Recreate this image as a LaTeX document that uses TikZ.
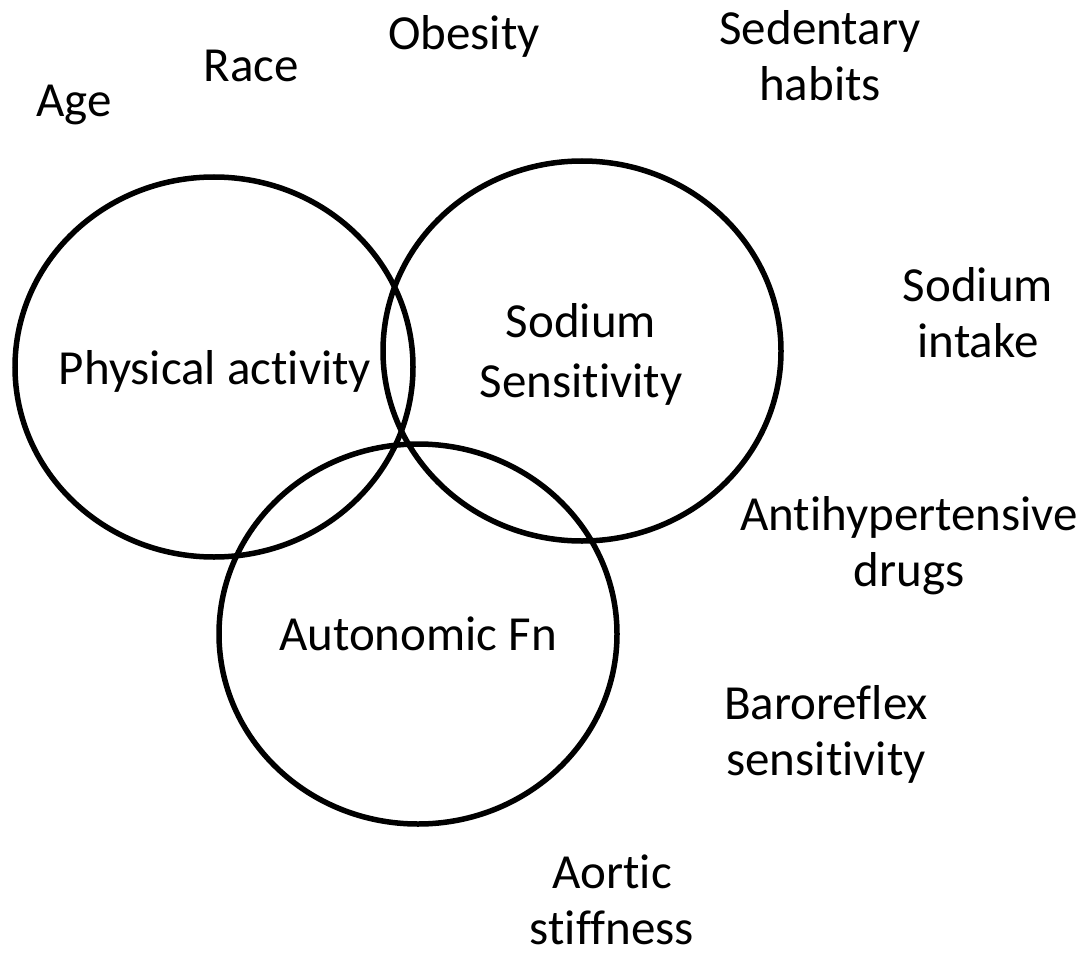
\documentclass[tikz,border=0pt]{standalone}
\usepackage{fontspec}
\setmainfont{Carlito}[Ligatures=NoCommon]
\usetikzlibrary{shapes.geometric}

\begin{document}
\begin{tikzpicture}[x=1pt,y=-1pt,
  ring/.style={draw,ellipse,line width=5.5pt,minimum width=398pt,minimum height=380pt,inner sep=0pt},
  venntext/.style={font=\fontsize{49}{60}\selectfont,align=center,anchor=base},
  factor/.style={font=\fontsize{49}{56}\selectfont,align=center,anchor=base,inner sep=0pt}]
\useasboundingbox (0,0) rectangle (1091,952);

% the three circles
\node[ring] (PA) at (214,367) {};
\node[ring] (SS) at (582,351) {};
\node[ring] (AF) at (418,634) {};

% base = baseline of the last line
\node[venntext] (patext) at (215,384) {Physical activity};
\node[venntext] (sstext) at (581,397) {Sodium\\Sensitivity};
\node[venntext] (aftext) at (418,650) {Autonomic Fn};

% factors around
\node[factor] (age) at (74,117) {Age};
\node[factor] (race) at (251,82) {Race};
\node[factor] (obesity) at (464,50) {Obesity};
\node[factor] (sedentary) at (820,101) {Sedentary\\habits};
\node[factor] (sodium) at (978,357) {Sodium\\intake};
\node[factor] (drugs) at (909,586) {Antihypertensive\\drugs};
\node[factor] (baro) at (826,775) {Baroreflex\\sensitivity};
\node[factor] (aortic) at (612,944) {Aortic\\stiffness};

\end{tikzpicture}
\end{document}
